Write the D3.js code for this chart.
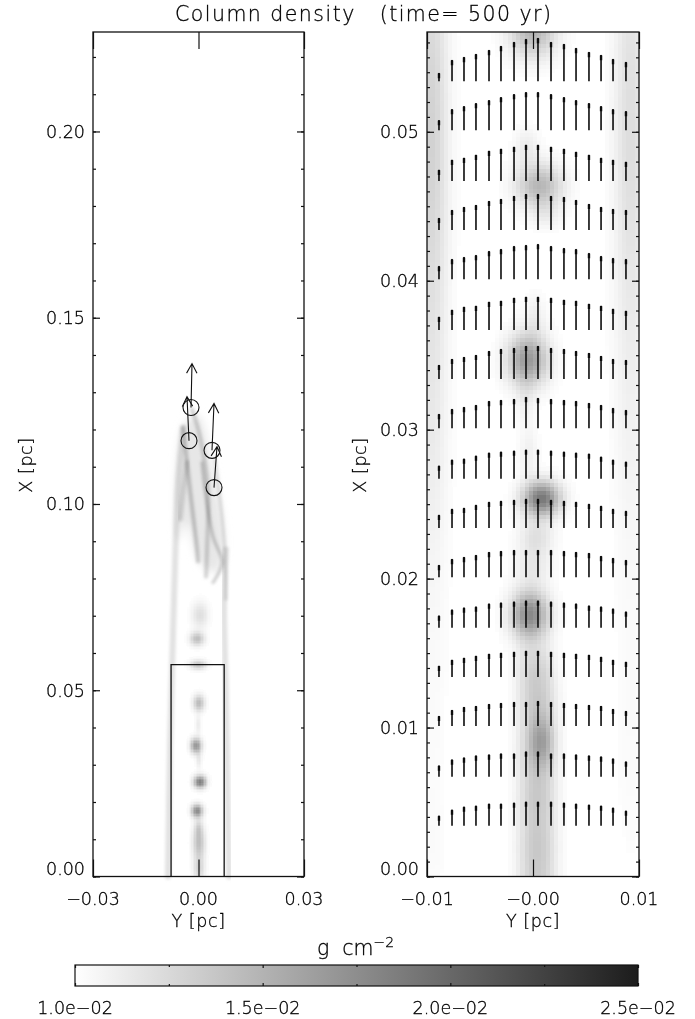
<!DOCTYPE html>
<html><head><meta charset="utf-8">
<script src="https://cdn.jsdelivr.net/npm/d3@7"></script>
<style>
html,body{margin:0;padding:0;background:#fff}
svg{display:block}
text{font-family:"DejaVu Sans",sans-serif;font-weight:200;fill:#000;stroke:#000;stroke-width:0.3px;font-size:17.5px}
.axis path{display:none}
.axis line{stroke:#111;stroke-width:1.2}
.axis text{display:none}
</style></head><body>
<script>
// ---------- data ----------
const titleText = "Column density   (time= 500 yr)";
const unitText = "g cm";
const leftMajorX = [0, 0.05, 0.10, 0.15, 0.20];
const rightMajorX = [0, 0.01, 0.02, 0.03, 0.04, 0.05];
const leftMinorX = d3.range(0, 23).map(i => i / 100);
const rightMinorX = d3.range(0, 57).map(i => i / 1000);
const leftYTicks = [-0.03, 0, 0.03];
const rightYTicks = [-0.01, 0, 0.01];
const leftYLabels = ["\u22120.03", "0.00", "0.03"];
const rightYLabels = ["\u22120.01", "\u22120.00", "0.01"];
const cbarMajor = [0.010, 0.015, 0.020, 0.025];
const cbarMinor = [0.0125, 0.0175, 0.0225];
const cbarLabels = ["1.0e\u221202", "1.5e\u221202", "2.0e\u221202", "2.5e\u221202"];

// column density excess blobs: [Y pc, X pc, sigma Y, sigma X, excess g/cm2]
const rightBlobs = [
  [0.0000, 0.0568, 0.0015, 0.0012, 0.0050],
  [-0.0006, 0.0490, 0.0008, 0.0009, 0.0012],
  [0.0006, 0.0464, 0.0015, 0.0010, 0.0048],
  [0.0012, 0.0445, 0.0010, 0.0007, 0.0010],
  [-0.0005, 0.0347, 0.0013, 0.0012, 0.0068],
  [0.0002, 0.0376, 0.0007, 0.0010, 0.0010],
  [-0.0007, 0.0320, 0.0006, 0.0010, 0.0009],
  [-0.0004, 0.0285, 0.0006, 0.0012, 0.0010],
  [0.0008, 0.0254, 0.0012, 0.0008, 0.0090],
  [0.0003, 0.0228, 0.0011, 0.0009, 0.0020],
  [0.0000, 0.0208, 0.0011, 0.0009, 0.0014],
  [-0.0003, 0.0176, 0.0012, 0.0011, 0.0078],
  [-0.0005, 0.0142, 0.0008, 0.0012, 0.0016],
  [0.0009, 0.0142, 0.0008, 0.0012, 0.0016],
  [-0.0003, 0.0118, 0.0009, 0.0015, 0.0020],
  [0.0011, 0.0118, 0.0009, 0.0015, 0.0020],
  [0.0008, 0.0091, 0.0008, 0.0012, 0.0034],
  [-0.0003, 0.0085, 0.0009, 0.0016, 0.0020],
  [0.0011, 0.0085, 0.0009, 0.0016, 0.0020],
  [-0.0003, 0.0052, 0.0009, 0.0016, 0.0020],
  [0.0011, 0.0052, 0.0009, 0.0016, 0.0020],
  [-0.0003, 0.0019, 0.0009, 0.0016, 0.0020],
  [0.0011, 0.0019, 0.0009, 0.0016, 0.0020],
  [-0.0003, -0.0014, 0.0009, 0.0016, 0.0020],
  [0.0011, -0.0014, 0.0009, 0.0016, 0.0020],
  [-0.0096, 0.0500, 0.0011, 0.0100, 0.0030],
  [-0.0096, 0.0300, 0.0011, 0.0070, 0.0010],
  [-0.0096, 0.0130, 0.0011, 0.0080, 0.0003],
  [-0.0096, 0.0020, 0.0011, 0.0020, 0.0002],
  [0.0092, 0.0500, 0.0011, 0.0100, 0.0022],
  [0.0092, 0.0300, 0.0011, 0.0070, 0.0006],
  [0.0092, 0.0110, 0.0011, 0.0080, 0.0003]
];
const leftBlobs = [
  [0.0004, 0.0703, 0.0016, 0.0024, 0.0021],
  [-0.0004, 0.0639, 0.0014, 0.0013, 0.0042],
  [-0.0001, 0.0569, 0.0016, 0.0009, 0.0037],
  [0.0001, 0.0467, 0.0011, 0.0015, 0.0045],
  [-0.0001, 0.0408, 0.0006, 0.0018, 0.0012],
  [-0.0007, 0.0352, 0.0011, 0.0014, 0.0068],
  [0.0001, 0.0314, 0.0006, 0.0016, 0.0014],
  [0.0004, 0.0255, 0.0012, 0.0012, 0.0085],
  [-0.0004, 0.0177, 0.0011, 0.0012, 0.0075],
  [0.0000, 0.0131, 0.0008, 0.0016, 0.0020],
  [0.0001, 0.0091, 0.0012, 0.0030, 0.0042],
  [0.0001, 0.0020, 0.0011, 0.0024, 0.0028]
];
// shell streaks in the left panel: points [Y pc, X pc]
const shellOuterLeft = [[-0.00867, 0], [-0.0081, 0.0341], [-0.00697, 0.0744], [-0.0064, 0.0923], [-0.00583, 0.1058], [-0.0044, 0.1205]];
const shellOuterRight = [[0.00867, 0], [0.00782, 0.0475], [0.00725, 0.0744], [0.00782, 0.0878]];
const shellA = [[-0.0044, 0.1205], [-0.00327, 0.1111], [-0.00242, 0.1039], [-0.00043, 0.0878], [-0.00014, 0.0846]];
const shellB = [[-0.00327, 0.1111], [-0.0043, 0.1039], [-0.0052, 0.096]];
const shellC = [[-0.00185, 0.1254], [0.00043, 0.1181], [0.0027, 0.1031], [0.00242, 0.0878], [0.00213, 0.0805]];
const shellD = [[0.001, 0.1111], [0.00185, 0.1039], [0.00412, 0.0913], [0.00668, 0.0843], [0.00412, 0.0789]];
const shellE = [[0.00469, 0.1119], [0.00668, 0.0966], [0.00753, 0.087], [0.00782, 0.0744]];
const shellFill = [[-0.0056, 0.09], [-0.0044, 0.1205], [-0.0005, 0.124], [0.0035, 0.112], [0.0072, 0.088], [0.0048, 0.0815], [0.0004, 0.0845], [-0.0035, 0.095]];
// sink particles in the left panel
const sinkY = [-0.00213, -0.0027, 0.00384, 0.00441];
const sinkX = [0.1259, 0.1170, 0.1144, 0.1044];
const sinkDY = [0.00028, -0.00057, 0.00057, 0.00085];
const sinkDX = [0.0118, 0.0118, 0.0126, 0.0110];
const boxY = [-0.0078, 0.0073];
const boxX = 0.0569;
// velocity field in the right panel
const arrowRowX = [0.0034, 0.0067, 0.0101, 0.0134, 0.0167, 0.0201, 0.0234, 0.0267, 0.0301, 0.0334, 0.0367, 0.0401, 0.0434, 0.0467, 0.0501, 0.0534];
const arrowColY = [-0.00887, -0.00764, -0.00651, -0.00538, -0.00415, -0.00302, -0.00179, -0.00066, 0.00047, 0.0017, 0.00292, 0.00406, 0.00528, 0.00642, 0.00755, 0.00877];
const arrowSpeeds = [
  [10, 16, 19, 20, 22, 22, 23, 24, 24, 24, 23, 22, 21, 20, 18, 15],
  [11, 17, 19, 21, 22, 23, 23, 25, 25, 23, 23, 22, 21, 20, 18, 15],
  [10, 16, 19, 20, 22, 23, 24, 24, 25, 24, 23, 22, 21, 20, 17, 15],
  [11, 17, 19, 21, 23, 24, 25, 26, 26, 25, 24, 23, 22, 20, 17, 15],
  [12, 18, 20, 21, 24, 25, 26, 27, 27, 26, 25, 24, 22, 21, 19, 16],
  [12, 18, 20, 22, 25, 26, 27, 27, 27, 27, 26, 25, 24, 21, 19, 17],
  [13, 19, 20, 23, 26, 27, 28, 29, 29, 28, 27, 26, 24, 22, 19, 17],
  [13, 19, 20, 23, 26, 27, 28, 29, 29, 28, 27, 26, 25, 22, 19, 17],
  [14, 19, 21, 23, 27, 28, 29, 31, 30, 29, 28, 27, 25, 23, 20, 18],
  [14, 20, 22, 24, 28, 30, 31, 33, 33, 31, 30, 28, 26, 23, 20, 19],
  [13, 20, 23, 24, 28, 29, 32, 33, 33, 32, 30, 29, 26, 24, 21, 19],
  [13, 20, 22, 24, 28, 30, 33, 34, 35, 33, 31, 30, 26, 23, 21, 20],
  [12, 20, 23, 25, 29, 31, 34, 36, 36, 34, 33, 30, 26, 23, 21, 20],
  [11, 21, 23, 26, 30, 32, 34, 36, 36, 34, 32, 29, 26, 23, 21, 19],
  [10, 21, 24, 27, 30, 33, 36, 38, 38, 36, 33, 30, 27, 24, 21, 19],
  [8, 21, 24, 27, 31, 35, 39, 42, 43, 39, 37, 33, 29, 26, 22, 19]
];

// ---------- layout ----------
const W = 695, H = 1019;
const svg = d3.select("body").append("svg").attr("width", W).attr("height", H);
const frameTop = 32, frameBottom = 876.5;
const color = d3.scaleLinear().domain([0.010, 0.025]).range(["#ffffff", "#1c1c1c"]).clamp(true);
const defs = svg.append("defs");
defs.append("filter").attr("id", "b1").attr("x", "-30%").attr("y", "-10%").attr("width", "160%").attr("height", "120%")
  .append("feGaussianBlur").attr("stdDeviation", 1.5);
defs.append("filter").attr("id", "b2").attr("x", "-30%").attr("y", "-10%").attr("width", "160%").attr("height", "120%")
  .append("feGaussianBlur").attr("stdDeviation", 4);

const xL = d3.scaleLinear().domain([-0.03, 0.03]).range([93, 304]);
const yL = d3.scaleLinear().domain([0, 0.2267]).range([frameBottom, frameTop]);
const xR = d3.scaleLinear().domain([-0.01, 0.01]).range([427, 639]);
const yR = d3.scaleLinear().domain([0, 0.0567]).range([frameBottom, frameTop]);

function field(blobs, Y, X) {
  return 0.01 + d3.sum(blobs, b => {
    const u = (Y - b[0]) / b[2], v = (X - b[1]) / b[3];
    return b[4] * Math.exp(-0.5 * (u * u + v * v));
  });
}
function drawField(g, blobs, xs, ys, stepY, stepX) {
  const cells = [];
  const [y0, y1] = xs.domain(), [x0, x1] = ys.domain();
  for (let Y = y0; Y < y1 - 1e-9; Y += stepY)
    for (let X = x0; X < x1 - 1e-9; X += stepX) {
      const d = field(blobs, Y + stepY / 2, X + stepX / 2);
      if (d > 0.01015) cells.push({ Y, X, d });
    }
  g.append("g").attr("shape-rendering", "crispEdges").style("mix-blend-mode", "multiply")
    .selectAll("rect").data(cells).join("rect")
    .attr("x", c => xs(c.Y))
    .attr("y", c => ys(c.X + stepX))
    .attr("width", xs(stepY) - xs(0) + 0.4)
    .attr("height", ys(0) - ys(stepX) + 0.4)
    .attr("fill", c => color(c.d));
}
function frame(g, xs, ys, major, minor, yTicks, yLabels) {
  const x0 = xs.range()[0], x1 = xs.range()[1];
  g.append("rect").attr("x", x0).attr("y", frameTop).attr("width", x1 - x0).attr("height", frameBottom - frameTop)
    .attr("fill", "none").attr("stroke", "#111").attr("stroke-width", 1.3);
  const ax = (a, s, sc, vals, len) => g.append("g").attr("class", "axis").attr("transform", s)
    .call(a(sc).tickValues(vals).tickSize(-len));
  ax(d3.axisLeft, `translate(${x0},0)`, ys, major, 7);
  ax(d3.axisLeft, `translate(${x0},0)`, ys, minor, 3);
  ax(d3.axisRight, `translate(${x1},0)`, ys, major, 7);
  ax(d3.axisRight, `translate(${x1},0)`, ys, minor, 3);
  ax(d3.axisBottom, `translate(0,${frameBottom})`, xs, yTicks, 17);
  ax(d3.axisTop, `translate(0,${frameTop})`, xs, yTicks, 17);
  g.selectAll(".ylab").data(major).join("text").attr("class", "ylab")
    .attr("x", x0 - 8).attr("y", d => d === 0 ? ys(d) - 7 : ys(d) + 1.5)
    .attr("text-anchor", "end").attr("dominant-baseline", "middle")
    .text(d => d3.format(".2f")(d));
  g.selectAll(".xlab").data(yTicks).join("text").attr("class", "xlab")
    .attr("x", d => xs(d)).attr("y", 905).attr("text-anchor", "middle")
    .text((d, i) => yLabels[i]);
  g.append("text").attr("x", xs(0)).attr("y", 927).attr("text-anchor", "middle")
    .style("letter-spacing", "0.6px").text("Y [pc]");
  g.append("text").attr("transform", `translate(${x0 - 61},465) rotate(-90)`)
    .attr("text-anchor", "middle").style("letter-spacing", "0.6px").text("X [pc]");
}

// ---------- left panel ----------
const L = svg.append("g");
const line = d3.line().x(p => xL(p[0])).y(p => yL(p[1])).curve(d3.curveCatmullRom);
L.append("path").attr("d", d3.line().x(p => xL(p[0])).y(p => yL(p[1])).curve(d3.curveCatmullRomClosed)(shellFill))
  .attr("fill", color(0.0116)).attr("filter", "url(#b2)");
const shells = [
  [shellOuterLeft, 0.0119, 6], [shellOuterRight, 0.0119, 6], [shellA, 0.0134, 4],
  [shellB, 0.0122, 5], [shellC, 0.0128, 4], [shellD, 0.0134, 3], [shellE, 0.0122, 3]
];
L.selectAll(".shell").data(shells).join("path").attr("class", "shell")
  .attr("d", s => line(s[0])).attr("fill", "none")
  .attr("stroke", s => color(s[1])).attr("stroke-width", s => s[2])
  .attr("stroke-linecap", "round").attr("filter", "url(#b1)").style("mix-blend-mode", "multiply");
drawField(L, leftBlobs, d3.scaleLinear().domain([-0.012, 0.012]).range([xL(-0.012), xL(0.012)]),
  d3.scaleLinear().domain([0, 0.08]).range([yL(0), yL(0.08)]), 0.0004, 0.0004);
L.append("path")
  .attr("d", d3.line().x(p => xL(p[0])).y(p => yL(p[1]))([[boxY[0], 0], [boxY[0], boxX], [boxY[1], boxX], [boxY[1], 0]]))
  .attr("fill", "none").attr("stroke", "#111").attr("stroke-width", 1.3);
L.selectAll(".sink").data(sinkY).join("circle").attr("class", "sink")
  .attr("cx", d => xL(d)).attr("cy", (d, i) => yL(sinkX[i])).attr("r", 8)
  .attr("fill", "none").attr("stroke", "#111").attr("stroke-width", 1.1);
sinkY.forEach((Y, i) => {
  const x1 = xL(Y), y1 = yL(sinkX[i]), x2 = xL(Y + sinkDY[i]), y2 = yL(sinkX[i] + sinkDX[i]);
  const a = Math.atan2(y2 - y1, x2 - x1);
  const p = [[x1, y1], [x2, y2]];
  L.append("path").attr("fill", "none").attr("stroke", "#111").attr("stroke-width", 1.1)
    .attr("d", d3.line()(p) + d3.line()([
      [x2 + 11 * Math.cos(a + 2.65), y2 + 11 * Math.sin(a + 2.65)], [x2, y2],
      [x2 + 11 * Math.cos(a - 2.65), y2 + 11 * Math.sin(a - 2.65)]]));
});
frame(L, xL, yL, leftMajorX, leftMinorX, leftYTicks, leftYLabels);

// ---------- right panel ----------
const R = svg.append("g");
drawField(R, rightBlobs, xR, yR, 0.0004, 0.00027);
const arrows = arrowSpeeds.flatMap((row, i) => row.map((s, j) => ({ X: arrowRowX[i], Y: arrowColY[j], s })));
const len = d3.scaleLinear().domain([0, 100]).range([0, 100]);
R.selectAll(".vel").data(arrows).join("line").attr("class", "vel")
  .attr("x1", d => xR(d.Y)).attr("x2", d => xR(d.Y))
  .attr("y1", d => yR(d.X)).attr("y2", d => yR(d.X) - len(d.s))
  .attr("stroke", "#0c0c0c").attr("stroke-width", 1.6);
R.selectAll(".velh").data(arrows).join("path").attr("class", "velh")
  .attr("transform", d => `translate(${xR(d.Y)},${yR(d.X) - len(d.s)})`)
  .attr("d", "M-1.2,5L-1.2,0.4L0,-0.4L1.2,0.4L1.2,5Z").attr("fill", "#0c0c0c");
frame(R, xR, yR, rightMajorX, rightMinorX, rightYTicks, rightYLabels);

// ---------- title ----------
svg.append("text").attr("x", 175).attr("y", 21).attr("textLength", 376).attr("lengthAdjust", "spacing")
  .style("white-space", "pre").style("font-size", "20.5px").text(titleText);

// ---------- colour bar ----------
const C = svg.append("g");
const xC = d3.scaleLinear().domain([0.010, 0.025]).range([75, 638]);
const grad = defs.append("linearGradient").attr("id", "cb");
cbarMajor.forEach(v => grad.append("stop").attr("offset", (v - 0.01) / 0.015).attr("stop-color", color(v)));
C.append("rect").attr("x", 75).attr("y", 965).attr("width", 563).attr("height", 21)
  .attr("fill", "url(#cb)").attr("stroke", "#111").attr("stroke-width", 1.2);
const cAx = (a, t, vals, l) => C.append("g").attr("class", "axis").attr("transform", `translate(0,${t})`)
  .call(a(xC).tickValues(vals).tickSize(-l));
cAx(d3.axisBottom, 986, cbarMajor, 3); cAx(d3.axisTop, 965, cbarMajor, 3);
cAx(d3.axisBottom, 986, cbarMinor, 2); cAx(d3.axisTop, 965, cbarMinor, 2);
C.selectAll(".clab").data(cbarMajor).join("text").attr("class", "clab")
  .attr("x", d => xC(d)).attr("y", 1014).attr("text-anchor", "middle")
  .text((d, i) => cbarLabels[i]);
const unit = C.append("text").attr("x", 317).attr("y", 955).style("font-size", "20.5px");
unit.append("tspan").style("white-space", "pre").text(unitText.replace(" ", "  "));
unit.append("tspan").attr("dy", -8).style("font-size", "14px").text("\u22122");
</script>
</body></html>
